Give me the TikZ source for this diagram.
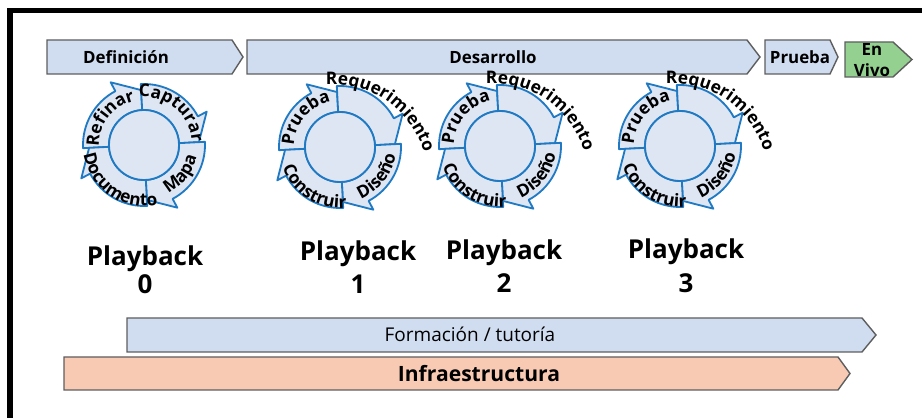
\documentclass[tikz,border=0pt]{standalone}
\usepackage{fontspec}
\setmainfont{Open Sans}
\usetikzlibrary{decorations.text}
\definecolor{PhaseBlue}{HTML}{D0DCF0}
\definecolor{PhaseEdge}{HTML}{5E5E5E}
\definecolor{LiveGreen}{HTML}{94D08F}
\definecolor{InfraRed}{HTML}{F8CAB4}
\definecolor{RingBlue}{HTML}{1F7AC3}
\definecolor{RingFill}{HTML}{DEE6F4}
\newcommand{\ringfont}{\fontsize{12.3}{14}\selectfont\bfseries}

\begin{document}
\begin{tikzpicture}[x=0.025cm, y=0.025cm,
  bar/.style={draw=PhaseEdge, line width=1pt},
  phase/.style={font=\fontsize{12}{14}\selectfont\bfseries},
  seg/.style={fill=RingFill, draw=RingBlue, line width=1.3pt, line join=round},
  pb/.style={font=\fontsize{18.5}{24}\selectfont\bfseries, align=center},
  ringtext/.style={decorate, decoration={text along path, text align=center,
                   text={|\ringfont|#1}}}
]
\useasboundingbox (0,0) rectangle (922,-418);

% ── PHASES ────────────────────────────────────────────────────────────────────
\filldraw[bar, fill=PhaseBlue] (47,-40) -- (232,-40) -- (243,-57) -- (232,-74) -- (47,-74) -- cycle;
\node[phase] (def) at (126,-57) {Definición};

\filldraw[bar, fill=PhaseBlue] (247,-40) -- (747,-40) -- (760,-57) -- (747,-74) -- (247,-74) -- cycle;
\node[phase] (dev) at (493,-57) {Desarrollo};

\filldraw[bar, fill=PhaseBlue] (765,-40) -- (830,-40) -- (838,-57) -- (830,-74) -- (765,-74) -- cycle;
\node[phase] (test) at (800,-57) {Prueba};

\filldraw[bar, fill=LiveGreen] (845,-42) -- (893,-42) -- (912,-59.5) -- (893,-77) -- (845,-77) -- cycle;
\node[phase, align=center, font=\fontsize{12}{15.5}\selectfont\bfseries] (live) at (872,-60) {En\\Vivo};

% ── CYCLES ────────────────────────────────────────────────────────────────────
\foreach \cx/\cy in {144/-145, 340/-147, 500/-146, 680/-146} {
  \begin{scope}[shift={(\cx,\cy)}]
    \foreach \s/\e in {183/93, 93/3, 3/-87, -87/-177} {
      \pgfmathsetmacro{\h}{\e+25}
      \filldraw[seg] (\s:35) -- (\s:61) arc[start angle=\s, end angle=\h, radius=61]
        -- (\h:71) -- (\e:55) -- (\e:35) arc[start angle=\e, end angle=\s, radius=35] -- cycle;
    }
    \filldraw[seg] (0,0) circle[radius=35];
  \end{scope}
}

% definition loop
\begin{scope}[shift={(144,-145)}]
  \path[ringtext=Refinar] (217:45) arc[start angle=217, end angle=67, radius=45];
  \path[ringtext=Capturar] (125:48) arc[start angle=125, end angle=-25, radius=48];
  \path[ringtext=Mapa] (-113:54) arc[start angle=-113, end angle=37, radius=54];
  \path[ringtext=Documento] (161:61) arc[start angle=161, end angle=311, radius=61];
\end{scope}

% development loops
\foreach \cx/\cy in {340/-147, 500/-146, 680/-146} {
  \begin{scope}[shift={(\cx,\cy)}]
    \path[ringtext=Prueba] (215:46) arc[start angle=215, end angle=65, radius=46];
    \path[ringtext=Diseño] (-113:56) arc[start angle=-113, end angle=37, radius=56];
    \path[ringtext=Construir] (163:61) arc[start angle=163, end angle=313, radius=61];
    \begin{scope}[shift={(-8,-33)}]
      \path[ringtext=Requerimiento] (125:96) arc[start angle=125, end angle=-15, radius=96];
    \end{scope}
  \end{scope}
}

\node[pb] (pb0) at (145,-270) {Playback\\[-4pt]0};
\node[pb] (pb1) at (358,-267) {Playback\\1};
\node[pb] (pb2) at (504,-266) {Playback\\2};
\node[pb] (pb3) at (686,-266) {Playback\\3};

% ── SUPPORT ───────────────────────────────────────────────────────────────────
\filldraw[bar, fill=PhaseBlue] (127,-318) -- (862,-318) -- (876,-335) -- (862,-352) -- (127,-352) -- cycle;
\node[font=\fontsize{13.5}{16}\selectfont] (coach) at (470,-334) {Formación / tutoría};

\filldraw[bar, fill=InfraRed] (64,-357) -- (838,-357) -- (850,-373.5) -- (838,-390) -- (64,-390) -- cycle;
\node[font=\fontsize{15}{18}\selectfont\bfseries] (infra) at (479,-374) {Infraestructura};

% frame
\draw[line width=3.9pt] (10,-418) -- (10,-10.5) -- (922,-10.5);

\end{tikzpicture}
\end{document}
